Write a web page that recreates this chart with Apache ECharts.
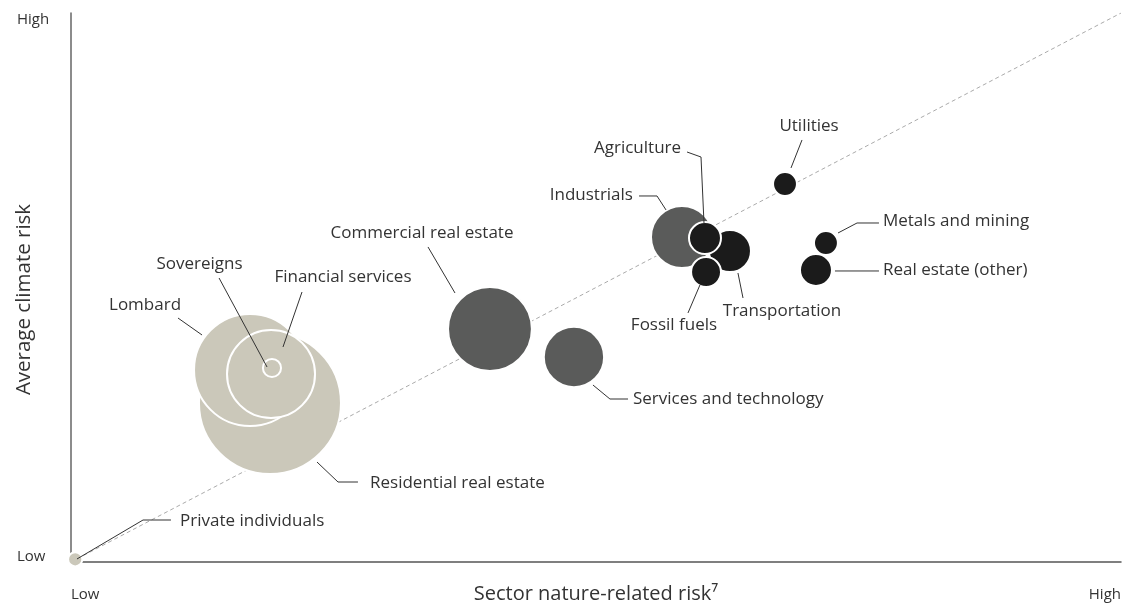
<!DOCTYPE html>
<html>
<head>
<meta charset="utf-8">
<script src="https://cdn.jsdelivr.net/npm/echarts@6/dist/echarts.min.js"></script>
<style>
  html, body { margin: 0; padding: 0; background: #fff; }
  #main { width: 1122px; height: 604px; }
</style>
</head>
<body>
<div id="main"></div>
<script>
// sectors in drawing order (later ones sit on top)
var sectors = ['Private individuals', 'Residential real estate', 'Lombard', 'Financial services', 'Sovereigns',
  'Commercial real estate', 'Services and technology', 'Industrials', 'Transportation', 'Agriculture',
  'Fossil fuels', 'Utilities', 'Metals and mining', 'Real estate (other)'];
// x: sector nature-related risk, y: average climate risk (0 = low, 100 = high)
var natureRisk  = [0.4, 18.95, 17.05, 19.05, 19.14, 39.9, 47.9, 58.19, 62.76, 60.38, 60.48, 68.0, 71.9, 70.95];
var climateRisk = [0.5, 28.96, 34.97, 34.24, 35.34, 42.44, 37.34, 59.2, 56.65, 59.0, 52.82, 68.85, 58.1, 53.19];
// bubble size (exposure)
var exposure    = [1.5, 196, 121, 74, 2.6, 67, 34, 36, 16, 9, 7.8, 4.8, 4.8, 9];
// colour tier of each bubble
var tier        = [0, 0, 0, 0, 0, 1, 1, 1, 2, 2, 2, 2, 2, 2];

var axisTicks = ['Low', 'High'];

// annotation labels and their leader lines (in axis units)
var labelText = ['Private individuals', 'Residential real estate', 'Lombard', 'Sovereigns', 'Financial services',
  'Commercial real estate', 'Services and technology', 'Industrials', 'Agriculture', 'Utilities',
  'Transportation', 'Fossil fuels', 'Metals and mining', 'Real estate (other)'];
var labelPos = [[10.38, 7.4], [28.48, 14.39], [10.48, 46.81], [12.24, 54.28], [25.9, 51.91],
  [33.43, 59.93], [53.52, 29.69], [53.52, 66.85], [58.1, 75.41], [70.29, 79.42],
  [67.71, 45.72], [57.43, 43.17], [77.33, 62.11], [77.33, 53.19]];
var labelAlign = ['left', 'left', 'right', 'center', 'center', 'center', 'left', 'right', 'right', 'center',
  'center', 'center', 'left', 'left'];
var leaderLines = [
  [[0.57, 0.55], [6.86, 7.65], [9.52, 7.65]],
  [[23.43, 18.21], [25.43, 14.57], [27.33, 14.57]],
  [[12.48, 41.35], [10.19, 44.44]],
  [[14.1, 51.73], [18.67, 35.52]],
  [[22.0, 49.18], [20.19, 39.16]],
  [[34.0, 57.38], [36.57, 49.0]],
  [[49.71, 32.24], [51.33, 29.69], [53.05, 29.69]],
  [[54.1, 66.67], [55.81, 66.67], [56.67, 64.12]],
  [[58.67, 74.68], [60.0, 73.77], [60.29, 61.57]],
  [[69.62, 76.87], [68.57, 71.77]],
  [[63.52, 52.64], [64.0, 48.09]],
  [[59.9, 50.46], [58.76, 45.36]],
  [[73.05, 59.93], [74.86, 61.75], [76.95, 61.75]],
  [[72.76, 53.01], [76.95, 53.01]]
];

var tierColors = ['#cbc8ba', '#5a5b5a', '#1b1b1b'];
var font = '"Open Sans", "Noto Sans", sans-serif';

var chart = echarts.init(document.getElementById('main'));

var bubbles = sectors.map(function (name, i) {
  return {
    name: name,
    value: [natureRisk[i], climateRisk[i], exposure[i]],
    itemStyle: { color: tierColors[tier[i]] }
  };
});

var option = {
  backgroundColor: '#fff',
  animation: false,
  grid: { left: 71, right: 1, top: 13, bottom: 42, containLabel: false, outerBoundsMode: 'none' },
  xAxis: {
    type: 'value', min: 0, max: 100, interval: 100,
    name: 'Sector nature-related risk\u2077',
    nameLocation: 'middle', nameGap: 22, nameMoveOverlap: false,
    nameTextStyle: { fontFamily: font, fontSize: 20, color: '#333', verticalAlign: 'top' },
    axisLine: { lineStyle: { color: '#555', width: 1.5 } },
    axisTick: { show: false },
    splitLine: { show: false },
    axisLabel: {
      margin: 25, fontFamily: font, fontSize: 15, color: '#333',
      alignMinLabel: 'left', alignMaxLabel: 'right',
      formatter: function (v) { return v === 0 ? axisTicks[0] : axisTicks[1]; }
    }
  },
  yAxis: {
    type: 'value', min: 0, max: 100, interval: 100,
    name: 'Average climate risk',
    nameLocation: 'middle', nameGap: 36, nameRotate: 90, nameMoveOverlap: false,
    nameTextStyle: { fontFamily: font, fontSize: 20.5, color: '#333', padding: [0, 24, 0, 0] },
    axisLine: { show: true, lineStyle: { color: '#666', width: 1.5 } },
    axisTick: { show: false },
    splitLine: { show: false },
    axisLabel: {
      margin: 54, align: 'left', fontFamily: font, fontSize: 15, color: '#333',
      formatter: function (v) { return v === 0 ? '{l|' + axisTicks[0] + '}' : '{h|' + axisTicks[1] + '}'; },
      rich: {
        l: { fontFamily: font, fontSize: 15, color: '#333', padding: [0, 0, 10, 0] },
        h: { fontFamily: font, fontSize: 15, color: '#333', padding: [14, 0, 0, 0] }
      }
    }
  },
  series: [
    {
      type: 'line',
      data: [[0, 0], [100, 100]],
      symbol: 'none',
      silent: true,
      z: 1,
      lineStyle: { color: '#aaa', width: 1, type: [4, 3] }
    },
    {
      type: 'scatter',
      data: bubbles,
      clip: false,
      z: 2,
      symbolSize: function (v) { return 10 * Math.sqrt(v[2]) + 2; },
      itemStyle: { borderColor: '#fff', borderWidth: 2, opacity: 1 }
    },
    {
      type: 'custom',
      data: labelPos,
      clip: false,
      silent: true,
      z: 3,
      renderItem: function (params, api) {
        var i = params.dataIndex;
        var pts = leaderLines[i].map(function (p) { return api.coord(p); });
        var tp = api.coord(labelPos[i]);
        return {
          type: 'group',
          children: [
            {
              type: 'polyline',
              shape: { points: pts },
              style: { stroke: '#333', lineWidth: 1, fill: null }
            },
            {
              type: 'text',
              x: tp[0], y: tp[1],
              style: {
                text: labelText[i], fill: '#333', fontSize: 17, fontFamily: font,
                align: labelAlign[i], verticalAlign: 'middle',
                textAlign: labelAlign[i], textVerticalAlign: 'middle'
              }
            }
          ]
        };
      }
    }
  ]
};

chart.setOption(option);
</script>
</body>
</html>
